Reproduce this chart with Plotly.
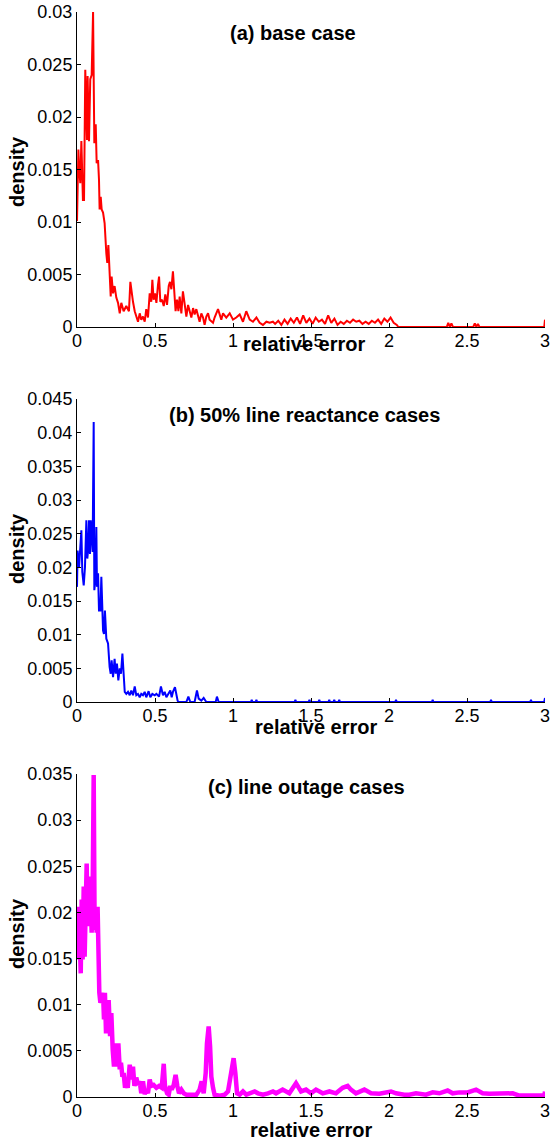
import plotly.graph_objects as go

# ---------------- data (density values in units of 1e-3) ----------------
# (a) base case
xa = [0.000, 0.009, 0.013, 0.021, 0.028, 0.034, 0.038, 0.045, 0.053, 0.064, 0.068, 0.077,
      0.085, 0.094, 0.103, 0.111, 0.120, 0.126, 0.135, 0.141, 0.145, 0.152, 0.158, 0.167,
      0.177, 0.188, 0.194, 0.201, 0.209, 0.216, 0.222, 0.231, 0.241, 0.252, 0.263, 0.274,
      0.284, 0.299, 0.316, 0.333, 0.342, 0.350, 0.359, 0.370, 0.380, 0.391, 0.402, 0.412,
      0.423, 0.434, 0.444, 0.455, 0.466, 0.476, 0.483, 0.491, 0.500, 0.509, 0.519, 0.526,
      0.534, 0.545, 0.556, 0.566, 0.577, 0.588, 0.596, 0.605, 0.615, 0.624, 0.632, 0.641,
      0.650, 0.658, 0.669, 0.679, 0.690, 0.701, 0.712, 0.722, 0.733, 0.744, 0.754, 0.765,
      0.776, 0.786, 0.797, 0.808, 0.818, 0.829, 0.840, 0.850, 0.872, 0.882, 0.904, 0.915,
      0.925, 0.936, 0.957, 0.979, 1.000, 1.021, 1.043, 1.064, 1.085, 1.107, 1.128, 1.150,
      1.171, 1.192, 1.214, 1.235, 1.256, 1.27, 1.29, 1.31, 1.33, 1.35, 1.37, 1.39, 1.41,
      1.43, 1.45, 1.47, 1.49, 1.51, 1.53, 1.55, 1.57, 1.59, 1.61, 1.63, 1.65, 1.67, 1.69,
      1.71, 1.73, 1.75, 1.77, 1.79, 1.81, 1.83, 1.85, 1.87, 1.89, 1.91, 1.93, 1.95, 1.97,
      1.99, 2.01, 2.03, 2.05, 2.06, 2.37, 2.38, 2.39, 2.40, 2.41, 2.54, 2.55, 2.56, 2.57,
      2.58, 2.995, 3.0]
ya = [10.1, 16.9, 15.3, 13.7, 17.7, 13.4, 12.1, 12.1, 24.5, 17.8, 23.9, 17.7,
      23.6, 24.0, 30.0, 17.5, 19.3, 15.6, 15.9, 14.0, 11.2, 12.4, 11.2, 10.9,
      9.9, 7.0, 6.1, 7.8, 4.8, 2.9, 4.8, 3.2, 3.9, 2.8, 2.3, 1.3,
      2.3, 1.5, 2.0, 1.5, 4.3, 3.2, 2.4, 1.5, 0.9, 0.5, 1.3, 0.7,
      1.0, 0.5, 1.7, 0.9, 3.2, 2.4, 4.5, 2.6, 3.2, 2.3, 4.0, 4.8,
      2.4, 2.6, 2.0, 3.1, 2.1, 3.9, 4.3, 3.6, 5.3, 2.6, 1.5, 2.6,
      1.5, 2.9, 1.3, 3.4, 2.0, 1.0, 2.1, 1.5, 0.9, 1.8, 1.2, 1.7,
      1.0, 0.5, 1.3, 0.9, 0.2, 1.0, 1.3, 0.7, 0.4, 0.9, 1.7, 1.2,
      0.7, 1.3, 0.9, 1.3, 0.7, 0.9, 1.2, 0.5, 1.5, 0.7, 0.5, 0.9,
      0.4, 0.2, 0.5, 0.4, 0.5, 0.3, 0.6, 0.2, 0.7, 0.3, 0.8, 0.4, 0.9,
      0.3, 1.1, 0.4, 0.8, 0.3, 0.9, 0.5, 0.7, 0.3, 1.1, 0.4, 0.8, 0.2, 0.5,
      0.3, 0.6, 0.4, 0.7, 0.5, 0.6, 0.3, 0.5, 0.3, 0.6, 0.4, 0.7, 0.3, 0.8,
      0.5, 0.9, 0.4, 0.2, 0.0, 0.0, 0.4, 0.0, 0.35, 0.0, 0.0, 0.35, 0.0, 0.3,
      0.0, 0.0, 0.7]

# (b) 50% line reactance cases
xb = [0.000, 0.004, 0.013, 0.021, 0.028, 0.034, 0.043, 0.051, 0.060, 0.066, 0.073, 0.077,
      0.083, 0.088, 0.094, 0.100, 0.107, 0.111, 0.118, 0.124, 0.128, 0.135, 0.141, 0.150,
      0.156, 0.162, 0.167, 0.173, 0.179, 0.188, 0.199, 0.209, 0.216, 0.222, 0.231, 0.241,
      0.248, 0.256, 0.265, 0.274, 0.282, 0.291, 0.299, 0.306, 0.316, 0.327, 0.338, 0.348,
      0.359, 0.370, 0.380, 0.391, 0.402, 0.412, 0.423, 0.434, 0.444, 0.459, 0.470, 0.483,
      0.498, 0.509, 0.526, 0.538, 0.551, 0.562, 0.573, 0.583, 0.598, 0.607, 0.615, 0.628,
      0.637, 0.645, 0.650, 0.701, 0.714, 0.726, 0.754, 0.769, 0.780, 0.797, 0.812, 0.829,
      0.889, 0.897, 0.908, 1.115, 1.12, 1.125, 1.145, 1.15, 1.155, 1.395, 1.40, 1.405,
      1.485, 1.49, 1.495, 1.548, 1.553, 1.558, 1.612, 1.617, 1.622, 1.644, 1.649, 1.654,
      1.676, 1.681, 1.686, 2.04, 2.045, 2.05, 2.275, 2.28, 2.285, 2.649, 2.654, 2.659,
      2.905, 2.91, 2.915, 2.995, 3.0]
yb = [17.1, 22.5, 20.0, 22.3, 25.5, 19.3, 17.3, 20.0, 27.0, 21.3, 23.0, 27.0,
      22.0, 27.0, 23.5, 22.3, 41.6, 16.6, 18.1, 26.0, 17.1, 19.1, 13.6, 13.6,
      18.6, 13.1, 10.6, 10.1, 13.6, 9.4, 8.7, 5.2, 4.2, 6.2, 3.7, 6.4,
      4.2, 5.7, 3.2, 5.0, 4.2, 7.2, 3.2, 1.5, 1.2, 1.5, 1.0, 1.7,
      1.0, 2.3, 1.0, 1.2, 0.7, 1.2, 1.0, 1.5, 0.7, 1.6, 0.7, 1.2,
      1.0, 1.2, 0.8, 2.3, 1.0, 1.5, 0.7, 1.2, 1.7, 0.7, 1.5, 2.2,
      1.0, 0.2, 0.0, 0.0, 0.8, 0.0, 0.0, 1.7, 0.5, 0.2, 0.6, 0.0,
      0.0, 0.8, 0.0, 0.0, 0.3, 0.0, 0.0, 0.3, 0.0, 0.0, 0.3, 0.0,
      0.0, 0.3, 0.0, 0.0, 0.3, 0.0, 0.0, 0.3, 0.0, 0.0, 0.3, 0.0,
      0.0, 0.3, 0.0, 0.0, 0.3, 0.0, 0.0, 0.3, 0.0, 0.0, 0.3, 0.0,
      0.0, 0.3, 0.0, 0.0, 0.6]

# (c) line outage cases
xc = [0.000, 0.004, 0.011, 0.017, 0.024, 0.030, 0.036, 0.043, 0.049, 0.056, 0.062, 0.068,
      0.075, 0.081, 0.088, 0.094, 0.100, 0.107, 0.113, 0.120, 0.126, 0.132, 0.137, 0.143,
      0.150, 0.158, 0.167, 0.173, 0.179, 0.186, 0.194, 0.203, 0.212, 0.220, 0.229, 0.237,
      0.248, 0.256, 0.265, 0.274, 0.282, 0.291, 0.299, 0.308, 0.316, 0.325, 0.338, 0.348,
      0.359, 0.368, 0.380, 0.391, 0.402, 0.412, 0.423, 0.434, 0.444, 0.455, 0.466, 0.476,
      0.491, 0.509, 0.526, 0.543, 0.556, 0.564, 0.577, 0.588, 0.598, 0.607, 0.620, 0.632,
      0.643, 0.654, 0.669, 0.684, 0.701, 0.733, 0.765, 0.786, 0.799, 0.812, 0.825, 0.833,
      0.844, 0.853, 0.861, 0.872, 0.882, 0.915, 0.947, 0.968, 0.983, 0.994, 1.004, 1.015,
      1.026, 1.043, 1.064, 1.085, 1.118, 1.139, 1.160, 1.192, 1.224, 1.256, 1.276, 1.318,
      1.361, 1.404, 1.436, 1.468, 1.500, 1.532, 1.575, 1.618, 1.660, 1.703, 1.735, 1.756,
      1.788, 1.842, 1.885, 1.938, 2.013, 2.045, 2.098, 2.130, 2.173, 2.237, 2.280, 2.323,
      2.376, 2.408, 2.451, 2.504, 2.558, 2.600, 2.643, 2.686, 2.729, 2.793, 2.835, 2.964,
      2.996, 3.0]
yc = [18.8, 14.9, 20.6, 16.3, 13.4, 21.4, 14.9, 22.8, 15.2, 20.6, 25.3, 18.5,
      23.9, 18.5, 22.1, 17.8, 21.4, 34.9, 18.1, 20.6, 17.8, 20.6, 14.9, 11.3,
      10.2, 10.9, 11.3, 8.4, 11.3, 6.9, 9.1, 10.5, 6.6, 9.1, 5.1, 3.3,
      5.8, 3.3, 5.8, 3.0, 3.7, 2.2, 2.6, 1.0, 1.5, 1.0, 3.5, 1.9,
      3.3, 1.2, 2.1, 1.3, 1.7, 0.4, 1.7, 0.3, 0.8, 0.4, 1.9, 1.2,
      1.3, 1.0, 1.2, 1.0, 3.6, 1.2, 0.4, 0.25, 1.2, 0.8, 1.3, 2.4,
      1.2, 0.4, 0.8, 0.4, 0.25, 0.25, 0.25, 0.8, 1.7, 0.4, 2.6, 5.8,
      7.65, 5.5, 2.2, 1.0, 0.25, 0.15, 0.25, 0.6, 1.9, 3.3, 4.2, 2.6,
      0.4, 0.25, 0.6, 0.25, 0.4, 0.6, 0.4, 0.25, 0.4, 0.6, 0.4, 0.8,
      0.4, 1.5, 0.6, 0.8, 0.4, 0.8, 0.4, 0.6, 0.4, 1.0, 1.2, 0.8,
      0.4, 0.8, 0.4, 0.35, 0.6, 0.4, 0.25, 0.25, 0.4, 0.25, 0.5, 0.4,
      0.7, 0.4, 0.5, 0.5, 0.8, 0.4, 0.35, 0.35, 0.35, 0.4, 0.15, 0.15,
      0.15, 0.6]

titles = ["(a) base case", "(b) 50% line reactance cases", "(c) line outage cases"]
ymax = [0.03, 0.045, 0.035]
x_label = "relative error"
y_label = "density"
x_ticks = [0, 0.5, 1, 1.5, 2, 2.5, 3]

# ---------------- layout geometry (pixels) ----------------
W, H = 552, 1144
def py(p):
    return 1 - p / H

x_dom = [77 / W, 545 / W]
panels = [
    dict(top=12, bot=327, title_xy=(293, 33), dens_y=172, rel_xy=(304, 344)),
    dict(top=399, bot=702, title_xy=(304, 415), dens_y=549, rel_xy=(316, 727)),
    dict(top=774, bot=1097, title_xy=(306, 787), dens_y=934, rel_xy=(311, 1130)),
]
series = [(xa, ya, "#ff0000", 2), (xb, yb, "#0000ff", 2), (xc, yc, "#ff00ff", 4.5)]

FONT = "Liberation Sans, Arial, sans-serif"
fig = go.Figure()
annotations = []
for i, (p, (xs, ys, col, lw)) in enumerate(zip(panels, series)):
    n = "" if i == 0 else str(i + 1)
    fig.add_trace(go.Scatter(
        x=xs, y=[v * 1e-3 for v in ys], mode="lines",
        line=dict(color=col, width=lw), xaxis="x" + n, yaxis="y" + n,
        showlegend=False, hoverinfo="skip"))
    ax = dict(domain=x_dom, anchor="y" + n, range=[0, 3], tickvals=x_ticks,
              automargin=False,
              showline=True, linecolor="black", linewidth=1, ticks="inside",
              ticklen=4, tickcolor="black", showgrid=False, zeroline=False,
              ticklabelstandoff=-3,
              tickfont=dict(family=FONT, size=18, color="black"))
    ay = dict(domain=[py(p["bot"]), py(p["top"])], anchor="x" + n,
              range=[0, ymax[i]], dtick=0.005, tick0=0, automargin=False,
              showline=True, linecolor="black", linewidth=1, ticks="inside",
              ticklen=4, tickcolor="black", showgrid=False, zeroline=False,
              tickfont=dict(family=FONT, size=18, color="black"))
    fig.update_layout(**{"xaxis" + n: ax, "yaxis" + n: ay})
    annotations.append(dict(text="<b>" + titles[i] + "</b>", xref="paper", yref="paper",
                            x=p["title_xy"][0] / W, y=py(p["title_xy"][1]),
                            xanchor="center", yanchor="middle", showarrow=False,
                            font=dict(family=FONT, size=20, color="black")))
    annotations.append(dict(text="<b>" + y_label + "</b>", xref="paper", yref="paper",
                            x=17 / W, y=py(p["dens_y"]), textangle=-90,
                            xanchor="center", yanchor="middle", showarrow=False,
                            font=dict(family=FONT, size=20, color="black")))
    annotations.append(dict(text="<b>" + x_label + "</b>", xref="paper", yref="paper",
                            x=p["rel_xy"][0] / W, y=py(p["rel_xy"][1]),
                            xanchor="center", yanchor="middle", showarrow=False,
                            font=dict(family=FONT, size=20, color="black")))

fig.update_layout(width=W, height=H, autosize=False,
                  margin=dict(l=0, r=0, t=0, b=0, pad=0),
                  paper_bgcolor="white", plot_bgcolor="white",
                  annotations=annotations)
fig.write_html("out.html")
